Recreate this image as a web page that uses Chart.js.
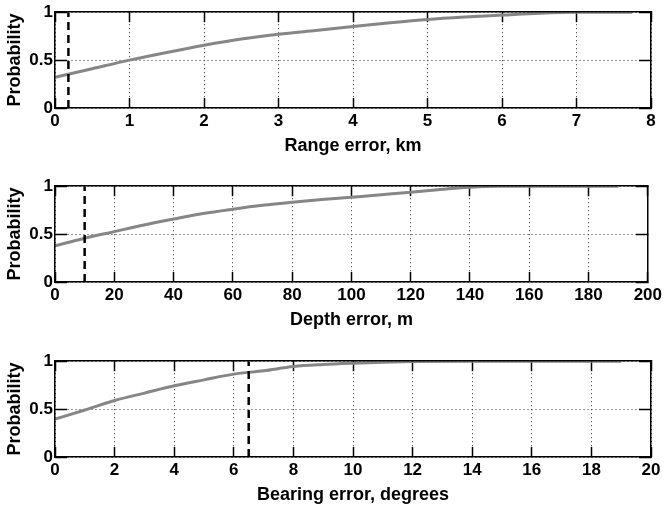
<!DOCTYPE html>
<html>
<head>
<meta charset="utf-8">
<script src="https://cdn.jsdelivr.net/npm/chart.js@4.4.0/dist/chart.umd.min.js"></script>
<style>
  html, body { margin: 0; padding: 0; background: #fff; }
  body { width: 665px; height: 508px; position: relative; overflow: hidden; }
  canvas { position: absolute; left: 0; }
</style>
</head>
<body>
<canvas id="range" width="665" height="170" style="top:0px"></canvas>
<canvas id="depth" width="665" height="170" style="top:174px"></canvas>
<canvas id="bearing" width="665" height="170" style="top:349px"></canvas>
<script>
// cumulative error distributions
const rangeKm = [0, 0.5, 1, 1.5, 2, 2.5, 3, 3.5, 4, 4.5, 5, 5.5, 6, 6.5, 7, 7.75];
const rangeProb = [0.32, 0.41, 0.5, 0.58, 0.655, 0.72, 0.77, 0.81, 0.85, 0.89, 0.925, 0.95, 0.97, 0.99, 1.0, 1.0];

const depthM = [0, 10, 20, 30, 40, 50, 60, 70, 80, 90, 100, 110, 120, 130, 140, 150, 160, 170, 180, 190];
const depthProb = [0.378, 0.457, 0.526, 0.595, 0.657, 0.715, 0.76, 0.80, 0.832, 0.86, 0.885, 0.91, 0.938, 0.965, 0.99, 1, 1, 1, 1, 1];

const bearingDeg = [0, 1, 2, 3, 4, 5, 6, 7, 8, 9, 10, 11, 12, 14, 16, 18, 19];
const bearingProb = [0.396, 0.49, 0.59, 0.667, 0.743, 0.805, 0.865, 0.90, 0.944, 0.965, 0.979, 0.99, 0.996, 1, 1, 1, 1];

// dashed reference lines
const rangeMark = [0.18];
const depthMark = [10];
const bearingMark = [6.5];

const probTicks = [0, 0.5, 1];

const FONT = '"Liberation Sans", Arial, Helvetica, sans-serif';

// solid frame from the axis borders; dash only applies to the grid lines
const frameBorder = { display: true, color: '#000', width: 1.5, dash: [1, 3], z: 1 };

// zero-size helper axes that only draw inward tick marks (negative tickLength)
function tickAxis( axis, position, max, step, len ){
    const a = {
        type: 'linear',
        axis: axis,
        position: position,
        weight: 0,
        min: 0,
        max: max,
        ticks: { display: false },
        grid: {
            drawOnChartArea: false,
            drawTicks: true,
            tickLength: len,
            tickColor: '#000',
            tickWidth: 1.5,
            tickBorderDash: []
        },
        border: { display: false }
    };
    if ( axis === 'x' ){
        a.ticks.stepSize = step;
        a.afterFit = s => { s.height = 0; };
    } else {
        a.afterBuildTicks = s => { s.ticks = probTicks.map( v => ( { value: v } ) ); };
        a.afterFit = s => { s.width = 0; };
    }
    return a;
}

function makePanel( id, xs, ps, mark, xMax, xStep, title ){
    const curve = xs.map( ( v, i ) => ( { x: v, y: ps[i] } ) );
    const dashed = [ { x: mark[0], y: 0 }, { x: mark[0], y: 1 } ];

    const x2 = tickAxis( 'x', 'top', xMax, xStep, -10 );
    x2.border = frameBorder;
    const y2 = tickAxis( 'y', 'right', 1, null, -12 );
    y2.border = frameBorder;

    return new Chart( document.getElementById( id ), {
        type: 'line',
        data: {
            datasets: [
                {
                    data: dashed,
                    xAxisID: 'x',
                    yAxisID: 'y',
                    borderColor: '#000',
                    borderWidth: 2.5,
                    borderDash: [8, 5],
                    pointRadius: 0,
                    order: 1
                },
                {
                    data: curve,
                    xAxisID: 'x',
                    yAxisID: 'y',
                    borderColor: '#868686',
                    borderWidth: 3,
                    pointRadius: 0,
                    cubicInterpolationMode: 'monotone',
                    order: 2
                }
            ]
        },
        options: {
            responsive: false,
            animation: false,
            layout: { padding: { top: 12, right: 14, left: 0, bottom: 0 } },
            plugins: { legend: { display: false }, tooltip: { enabled: false } },
            scales: {
                x: {
                    type: 'linear',
                    axis: 'x',
                    position: 'bottom',
                    weight: 1,
                    min: 0,
                    max: xMax,
                    afterFit: s => { s.height = 62; },
                    ticks: { stepSize: xStep, padding: 3, color: '#000', font: { family: FONT, size: 17, weight: 'bold' } },
                    grid: { color: '#333', lineWidth: 1, drawTicks: false },
                    border: frameBorder,
                    title: {
                        display: true, text: title, color: '#000',
                        font: { family: FONT, size: 18, weight: 'bold' },
                        padding: { top: 0, bottom: 13 }
                    }
                },
                y: {
                    type: 'linear',
                    axis: 'y',
                    position: 'left',
                    weight: 1,
                    min: 0,
                    max: 1,
                    afterFit: s => { s.width = 55; },
                    afterBuildTicks: s => { s.ticks = probTicks.map( v => ( { value: v } ) ); },
                    ticks: {
                        padding: 2, color: '#000', font: { family: FONT, size: 17, weight: 'bold' },
                        callback: v => String( v )
                    },
                    grid: { color: '#333', lineWidth: 1, drawTicks: false },
                    border: frameBorder,
                    title: {
                        display: true, text: 'Probability', color: '#000',
                        font: { family: FONT, size: 18, weight: 'bold' },
                        padding: { top: 4, bottom: 0 }
                    }
                },
                xb: tickAxis( 'x', 'bottom', xMax, xStep, -10 ),
                yl: tickAxis( 'y', 'left', 1, null, -12 ),
                x2: x2,
                y2: y2
            }
        }
    } );
}

makePanel( 'range', rangeKm, rangeProb, rangeMark, 8, 1, 'Range error, km' );
makePanel( 'depth', depthM, depthProb, depthMark, 200, 20, 'Depth error, m' );
makePanel( 'bearing', bearingDeg, bearingProb, bearingMark, 20, 2, 'Bearing error, degrees' );
</script>
</body>
</html>
